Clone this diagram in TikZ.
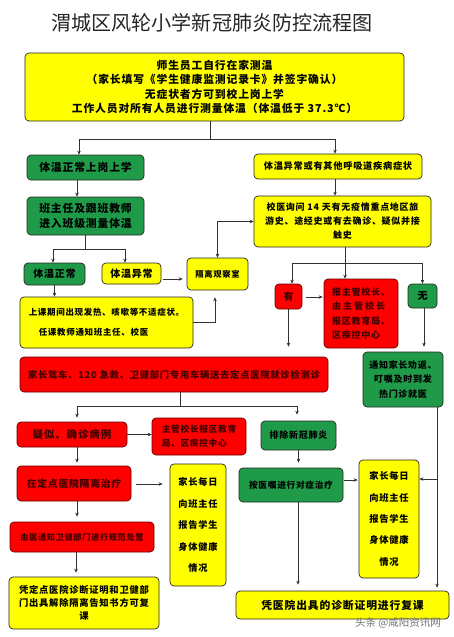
\documentclass[tikz,border=0pt]{standalone}
\usepackage{fontspec}
\setmainfont{Noto Sans CJK SC}
\newfontfamily\cjk[LetterSpace=8]{Noto Sans CJK SC}
\usetikzlibrary{arrows.meta,calc}
\newcommand\bxf[2]{\cjk\bfseries\fontsize{#1}{#2}\selectfont}
\definecolor{byel}{RGB}{255,255,0}
\definecolor{bgrn}{RGB}{30,154,72}
\definecolor{bred}{RGB}{255,0,0}
\definecolor{lnc}{RGB}{50,50,50}
\begin{document}
\begin{tikzpicture}[x=1pt,y=-1pt,
 box/.style={draw=black!85, line width=0.7pt, rounded corners=4pt, inner sep=0pt, align=center, text=black},
 ybox/.style={box, fill=byel},
 gbox/.style={box, fill=bgrn},
 rbox/.style={box, fill=bred, draw=black!60!red, text=black!75!red},
 sz/.style 2 args={minimum width=#1pt, minimum height=#2pt},
 arr/.style={-{Stealth[length=4pt,width=3.5pt]}, draw=lnc, line width=0.6pt},
 darr/.style={{Stealth[length=4pt,width=3.5pt]}-{Stealth[length=4pt,width=3.5pt]}, draw=lnc, line width=0.6pt},
 ln/.style={draw=lnc, line width=0.6pt}]
\fill[white] (0,0) rectangle (454,637);
\useasboundingbox (0,0) rectangle (454,637);

\node[text=black!85, font=\fontsize{20.1}{24}\selectfont] (title) at (212,23) {渭城区风轮小学新冠肺炎防控流程图};

\node[ybox, sz={379}{68}, font=\bxf{10.8}{14.3}] (n1) at (214.5,87) {师生员工自行在家测温\\（家长填写《学生健康监测记录卡》并签字确认）\\无症状者方可到校上岗上学\\工作人员对所有人员进行测量体温（体温低于 37.3℃）};
\node[gbox, sz={117}{25}, font=\bxf{10.8}{13}] (g1) at (85.5,167.5) {体温正常上岗上学};
\node[ybox, sz={168}{25}, font=\bxf{9.2}{13}] (y1) at (338,166.5) {体温异常或有其他呼吸道疾病症状};
\node[gbox, sz={117}{38}, font=\bxf{10.8}{15}] (g2) at (85.5,216) {班主任及跟班教师\\进入班级测量体温};
\node[gbox, sz={61}{22}, font=\bxf{10}{12}] (g3) at (54.5,274) {体温正常};
\node[ybox, sz={59}{21}, font=\bxf{10}{12}] (y2) at (131.5,273.5) {体温异常};
\node[ybox, sz={61}{32}, font=\bxf{8.3}{12}] (y3) at (217.5,274) {隔离观察室};
\node[ybox, sz={177}{51}, font=\bxf{9}{14}] (y4) at (342.5,221.5) {校医询问 14 天有无疫情重点地区旅\\游史、途经史或有去确诊、疑似并接\\触史};
\node[rbox, sz={27}{25}, font=\bxf{10}{12}] (r1) at (288.5,296.5) {有};
\node[rbox, sz={74}{69}, font=\bxf{9}{14.3}, align=left] (r2) at (361,313.5) {报主管校长、\\由\hspace{2pt}主\hspace{2pt}管\hspace{2pt}校\hspace{2pt}长\\报区教育局、\\区疾控中心};
\node[gbox, sz={29}{24}, font=\bxf{10}{12}] (g4) at (422.5,296) {无};
\node[ybox, sz={173}{51}, font=\bxf{8.5}{20}, align=left] (y5) at (106.5,322.5) {上课期间出现发热、咳嗽等不适症状。\\\hspace{10pt}任课教师通知班主任、校医};
\node[rbox, sz={308}{35}, font=\bxf{9.3}{12}] (r3) at (174,374.5) {家长驾车、120 急救、卫健部门专用车辆送去定点医院就诊检测诊};
\node[gbox, sz={80}{55}, font=\bxf{9}{14.5}] (g5) at (403,379.5) {通知家长劝返、\\叮嘱及时到发\\热门诊就医};
\node[rbox, sz={110}{25}, font=\bxf{10.5}{12}] (r4) at (72,434.5) {疑似、确诊病例};
\node[rbox, sz={94}{37}, font=\bxf{8.7}{14}, align=left] (r5) at (199,436.5) {主管校长报区教育\\局、区疾控中心};
\node[gbox, sz={75}{29}, font=\bxf{9}{12}] (g6) at (298.5,435.5) {排除新冠肺炎};
\node[rbox, sz={114}{35}, font=\bxf{9.8}{12}] (r6) at (74,483.5) {在定点医院隔离治疗};
\node[ybox, sz={56}{122}, font=\bxf{9.2}{21.5}] (y6) at (198,525) {家长每日\\向班主任\\报告学生\\身体健康\\情况};
\node[rbox, sz={144}{30}, font=\bxf{8.2}{12}] (r7) at (82,537) {由医通知卫健部门进行规范处置};
\node[ybox, sz={150}{52}, font=\bxf{9.3}{13}] (y7) at (84,603) {凭定点医院诊断证明和卫健部\\门出具解除隔离告知书方可复\\课};
\node[gbox, sz={104}{34}, font=\bxf{8.7}{12}] (g7) at (291,485) {按医嘱进行对症治疗};
\node[ybox, sz={60}{118}, font=\bxf{9.3}{21.3}] (y8) at (389,519) {家长每日\\向班主任\\报告学生\\身体健康\\情况};
\node[ybox, sz={213}{28}, font=\bxf{10.8}{12}] (y9) at (342.5,605) {凭医院出具的诊断证明进行复课};

\node[text=black!55, font=\fontsize{10.5}{12}\selectfont] (wm) at (398,623) {头条 @咸阳资讯网};

% connectors
\coordinate (j1) at (210,139);
\draw[ln] (n1.south -| j1) -- (j1);
\draw[arr] (j1) -| ($(g1.north)+(-6.5,0)$);
\draw[arr] (j1) -| ($(y1.north)+(-3,0)$);
\draw[arr] ($(g1.south)+(-8.5,0)$) -- ($(g2.north)+(-8.5,0)$);
\coordinate (j2) at (85,249);
\draw[ln] (g2.south -| j2) -- (j2);
\draw[arr] (j2) -| ($(g3.north)+(-1.5,0)$);
\draw[arr] (j2) -| ($(y2.north)+(-6.5,0)$);
\draw[arr] ($(y2.east)+(2,5.5)$) -- ($(y3.west)+(-4,5)$);
\draw[darr] (y3.north) |- (y4.west);
\draw[arr] (y5.east) -| ($(y3.south)+(-2.5,7)$);
\draw[arr] (g3.south) -- (g3.south |- y5.north);
\draw[arr] ($(y1.south)+(-3,0)$) -- ($(y4.north)+(-7.5,0)$);
\coordinate (j3) at (345,263);
\draw[arr] (y4.south -| j3) -- (r2.north -| j3);
\draw[arr] (j3) -| ($(r1.north)+(3.5,0)$);
\draw[arr] (j3) -| (g4.north);
\draw[arr] ($(r1.east)+(4,0.5)$) -- ($(r2.west)+(-1,-16.5)$);
\draw[arr] (r1.south) -- ($(r1.south |- r3.north)+(0,-10)$);
\draw[arr] ($(g4.south)+(1.5,0)$) -- ($(g4.south |- g5.north)+(1.5,-5)$);
\coordinate (j4) at (180,406);
\draw[ln] (r3.south -| j4) -- (j4);
\draw[arr] (j4) -| ($(r4.north)+(5,-4)$);
\draw[arr] (j4) -| ($(g6.north)+(-1.5,-6)$);
\draw[arr] (r4.east) -- (r5.west |- r4.east);
\draw[arr] ($(r4.south)+(5,0)$) -- ($(r6.north)+(3,-3)$);
\draw[arr] ($(r6.east)+(5,0.5)$) -- ($(y6.west)+(-7,-41)$);
\draw[arr] ($(r6.south)+(3,0)$) -- ($(r7.north)+(-5,-5)$);
\draw[arr] ($(r7.south)+(-6,0)$) -- ($(y7.north)+(-8,-4)$);
\draw[arr] (g6.south) -- ($(g6.south |- g7.north)+(0,-5)$);
\draw[arr] ($(g7.east)+(1,-5)$) -- ($(y8.west)+(-1,-39)$);
\draw[arr] ($(g7.south)+(7,0)$) -- ($(g7.south |- y9.north)+(7,-6)$);
\coordinate (j5) at (437,479);
\draw[arr] ($(g5.south)+(34,0)$) -- ($(g5.south |- y9.north)+(34,-3)$);
\draw[arr] (j5) -- (y8.east |- j5);
\end{tikzpicture}
\end{document}
